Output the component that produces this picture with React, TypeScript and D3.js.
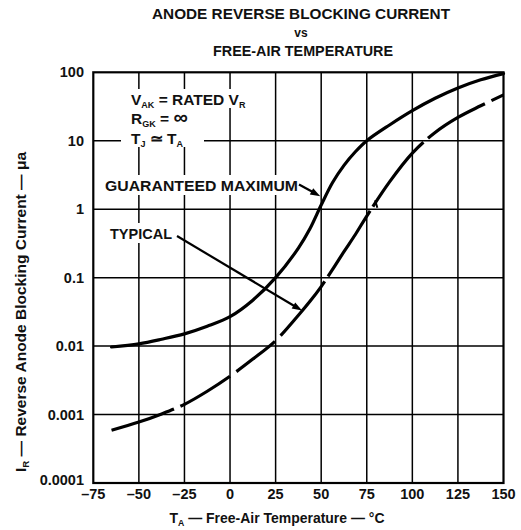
import React from "react";
import * as d3 from "d3";

const temperatures = [-65, -50, -37.5, -25, -12.5, 0, 12.5, 25, 37.5, 43.75, 50, 56.25, 62.5, 68.75, 75, 87.5, 100, 112.5, 125, 137.5, 150];
const guaranteedMaximum = [0.0097, 0.0108, 0.0126, 0.0151, 0.0195, 0.0269, 0.0468, 0.1, 0.27, 0.513, 1.15, 2.45, 4.37, 6.9, 10, 17, 27.5, 41.7, 58.9, 77.6, 95.5];
const typical = [0.000589, 0.000776, 0.00102, 0.00141, 0.00219, 0.00363, 0.00646, 0.012, 0.0282, 0.0447, 0.0741, 0.132, 0.24, 0.427, 0.794, 2.51, 6.61, 13.2, 21.9, 32.4, 46.8];
const xTicks = [-75, -50, -25, 0, 25, 50, 75, 100, 125, 150];
const xTickLabels = ["–75", "–50", "–25", "0", "25", "50", "75", "100", "125", "150"];
const yTicks = [0.0001, 0.001, 0.01, 0.1, 1, 10, 100];
const yTickLabels = ["0.0001", "0.001", "0.01", "0.1", "1", "10", "100"];

const FONT = "'Liberation Sans', Arial, sans-serif";

function Arrow({ x1, y1, x2, y2 }: { x1: number; y1: number; x2: number; y2: number }) {
  const dx = x2 - x1, dy = y2 - y1;
  const len = Math.hypot(dx, dy);
  const ux = dx / len, uy = dy / len;
  const hl = 10, hw = 3.5;
  const bx = x2 - ux * hl, by = y2 - uy * hl;
  const pts = [
    [x2, y2],
    [bx - uy * hw, by + ux * hw],
    [bx + uy * hw, by - ux * hw],
  ];
  return (
    <g>
      <line x1={x1} y1={y1} x2={bx + ux * 2} y2={by + uy * 2} stroke="#000" strokeWidth={2.2} />
      <polygon points={pts.map((p) => p.join(",")).join(" ")} fill="#000" />
    </g>
  );
}

export default function App() {
  const W = 521, H = 530;
  const x = d3.scaleLinear().domain([-75, 150]).range([93.3, 503.5]);
  const y = d3.scaleLog().domain([1e-4, 100]).range([483, 72.3]);

  const line = d3
    .line<[number, number]>()
    .x((d) => x(d[0]))
    .y((d) => y(d[1]))
    .curve(d3.curveCatmullRom.alpha(0.5));

  const gmPath = line(temperatures.map((t, i) => [t, guaranteedMaximum[i]] as [number, number])) || "";
  const tyPath = line(temperatures.map((t, i) => [t, typical[i]] as [number, number])) || "";

  const [x0, x1] = x.range();
  const [y0, y1] = y.range();

  const textStyle = { fontFamily: FONT, fontWeight: 700 as const, fill: "#111" };

  return (
    <svg width={W} height={H} style={{ position: "absolute", left: 0, top: 0, background: "#fff" }}>
      <rect x={0} y={0} width={W} height={H} fill="#fff" />
      {/* Title */}
      <text x={301} y={19} textAnchor="middle" fontSize={15} textLength={298} lengthAdjust="spacingAndGlyphs" style={textStyle}>
        ANODE REVERSE BLOCKING CURRENT
      </text>
      <text x={301} y={37} textAnchor="middle" fontSize={12} style={textStyle}>
        vs
      </text>
      <text x={303} y={56} textAnchor="middle" fontSize={15} textLength={180} lengthAdjust="spacingAndGlyphs" style={textStyle}>
        FREE-AIR TEMPERATURE
      </text>

      {/* Grid */}
      {xTicks.slice(1, -1).map((t) => (
        <line key={"gx" + t} x1={x(t)} x2={x(t)} y1={y1} y2={y0} stroke="#000" strokeWidth={1.5} />
      ))}
      {yTicks.slice(1, -1).map((v) => (
        <line key={"gy" + v} x1={x0} x2={x1} y1={y(v)} y2={y(v)} stroke="#000" strokeWidth={1.5} />
      ))}

      {/* Masks behind annotation text */}
      <rect x={126} y={89} width={121} height={19} fill="#fff" />
      <rect x={126} y={108} width={70} height={19} fill="#fff" />
      <rect x={121} y={127} width={83} height={20} fill="#fff" />
      <rect x={101} y={175} width={200} height={20} fill="#fff" />
      <rect x={105} y={223} width={72} height={20} fill="#fff" />

      {/* Border */}
      <rect x={x0} y={y1} width={x1 - x0} height={y0 - y1} fill="none" stroke="#000" strokeWidth={2.2} />

      {/* Curves */}
      <path d={gmPath} fill="none" stroke="#000" strokeWidth={3.2} strokeLinecap="round" />
      <path
        d={tyPath}
        fill="none"
        stroke="#000"
        strokeWidth={3.2}
        strokeDasharray="66,7,58,8,49,8,70,6,78,5,82,6,67,7,60"
        strokeLinecap="butt"
      />
      {/* small stray tick beside the typical curve */}
      <line x1={x(79.6)} y1={y(1.35)} x2={x(80.8)} y2={y(1.05)} stroke="#000" strokeWidth={2} />

      {/* Conditions */}
      <text x={131} y={105} fontSize={15.5} style={textStyle}>
        V<tspan fontSize={9} dy={3}>AK</tspan>
        <tspan dy={-3}> = RATED V</tspan>
        <tspan fontSize={9} dy={3}>R</tspan>
      </text>
      <text x={131} y={124} fontSize={15.5} style={textStyle}>
        R<tspan fontSize={9} dy={3}>GK</tspan>
        <tspan dy={-3}> = </tspan>
        <tspan fontSize={20}>∞</tspan>
      </text>
      <text x={131} y={144} fontSize={15.5} style={textStyle}>
        T<tspan fontSize={9} dy={3}>J</tspan>
        <tspan dy={-3}> ≃  T</tspan>
        <tspan fontSize={9} dy={3}>A</tspan>
      </text>

      {/* Labels with arrows */}
      <text x={105} y={191} fontSize={15.5} textLength={193} lengthAdjust="spacingAndGlyphs" style={textStyle}>
        GUARANTEED MAXIMUM
      </text>
      <Arrow x1={299} y1={184.5} x2={x(49.5)} y2={y(1.55)} />
      <text x={110} y={239} fontSize={15.5} textLength={62} lengthAdjust="spacingAndGlyphs" style={textStyle}>
        TYPICAL
      </text>
      <Arrow x1={177} y1={236} x2={x(39.5)} y2={y(0.033)} />

      {/* Y tick labels */}
      {yTicks.map((v, i) => (
        <text
          key={"yl" + v}
          x={84}
          y={i === 0 ? y(v) + 2 : y(v) + 5}
          textAnchor="end"
          fontSize={14.5}
          style={textStyle}
        >
          {yTickLabels[i]}
        </text>
      ))}

      {/* X tick labels */}
      {xTicks.map((t, i) => (
        <text key={"xl" + t} x={x(t)} y={499} textAnchor="middle" fontSize={14.5} style={textStyle}>
          {xTickLabels[i]}
        </text>
      ))}

      {/* Axis titles */}
      <text x={277} y={523} textAnchor="middle" fontSize={14.5} textLength={215} lengthAdjust="spacingAndGlyphs" style={textStyle}>
        T<tspan fontSize={9} dy={3}>A</tspan>
        <tspan dy={-3}> — Free-Air Temperature — °C</tspan>
      </text>
      <text
        transform={`translate(26,312) rotate(-90)`}
        textAnchor="middle"
        fontSize={14.5}
        textLength={320}
        lengthAdjust="spacingAndGlyphs"
        style={textStyle}
      >
        I<tspan fontSize={9} dy={3}>R</tspan>
        <tspan dy={-3}> — Reverse Anode Blocking Current — μa</tspan>
      </text>
    </svg>
  );
}
